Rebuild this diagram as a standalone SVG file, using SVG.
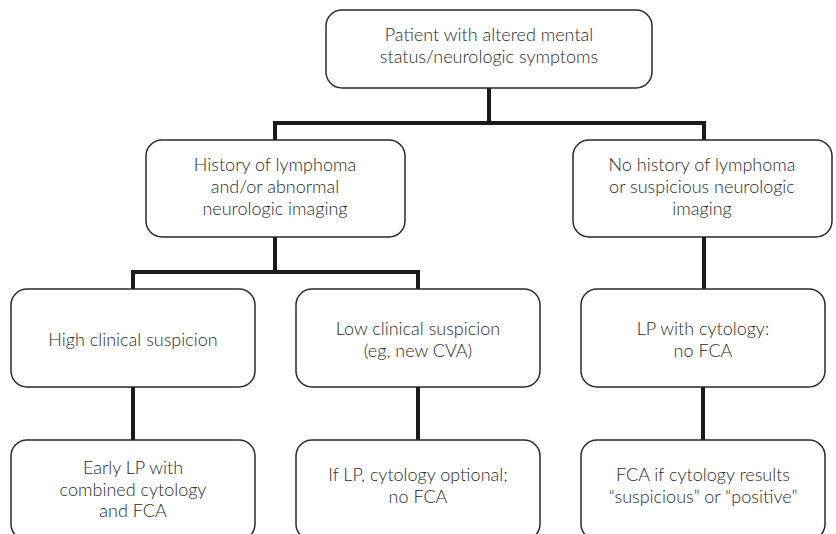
<svg xmlns="http://www.w3.org/2000/svg" width="836" height="534" viewBox="0 0 836 534">
<style>
.box{fill:#fff;stroke:#2a2a2a;stroke-width:1.5}
.t{font-family:"Lato","Open Sans",sans-serif;font-size:18px;font-weight:300;fill:#2a2a2a;text-anchor:middle}
.c{fill:none;stroke:#1a1a1a;stroke-width:4;stroke-linecap:butt;stroke-linejoin:miter}
</style>
<rect width="836" height="534" fill="#fff"/>
<g id="connectors">
<path class="c" d="M489 88V123M275 140V123H704V140"/>
<path class="c" d="M275 237V272M133 289V272H418V289"/>
<path class="c" d="M704 237V289"/>
<path class="c" d="M133 387V440"/>
<path class="c" d="M418 387V440"/>
<path class="c" d="M703 387V440"/>
</g>
<g id="n_patient">
<rect class="box" x="326" y="10" width="326" height="78" rx="16"/>
<text class="t" x="489" y="41">Patient with altered mental</text>
<text class="t" x="489" y="63">status/neurologic symptoms</text>
</g>
<g id="n_history">
<rect class="box" x="146" y="140" width="259" height="97" rx="16"/>
<text class="t" x="275" y="171">History of lymphoma</text>
<text class="t" x="275" y="193">and/or abnormal</text>
<text class="t" x="275" y="215">neurologic imaging</text>
</g>
<g id="n_nohistory">
<rect class="box" x="573" y="140" width="259" height="97" rx="16"/>
<text class="t" x="702" y="171">No history of lymphoma</text>
<text class="t" x="702" y="193">or suspicious neurologic</text>
<text class="t" x="702" y="215">imaging</text>
</g>
<g id="n_high">
<rect class="box" x="11" y="289" width="244" height="98" rx="16"/>
<text class="t" x="133" y="346">High clinical suspicion</text>
</g>
<g id="n_low">
<rect class="box" x="296" y="289" width="244" height="98" rx="16"/>
<text class="t" x="418" y="335">Low clinical suspicion</text>
<text class="t" x="418" y="357">(eg, new CVA)</text>
</g>
<g id="n_lp">
<rect class="box" x="581" y="289" width="244" height="98" rx="16"/>
<text class="t" x="703" y="335">LP with cytology:</text>
<text class="t" x="703" y="357">no FCA</text>
</g>
<g id="n_early">
<rect class="box" x="11" y="440" width="244" height="100" rx="16"/>
<text class="t" x="133" y="474">Early LP with</text>
<text class="t" x="133" y="496">combined cytology</text>
<text class="t" x="133" y="517">and FCA</text>
</g>
<g id="n_iflp">
<rect class="box" x="296" y="440" width="244" height="100" rx="16"/>
<text class="t" x="418" y="481">If LP, cytology optional;</text>
<text class="t" x="418" y="503">no FCA</text>
</g>
<g id="n_fca">
<rect class="box" x="581" y="440" width="244" height="100" rx="16"/>
<text class="t" x="703" y="481">FCA if cytology results</text>
<text class="t" x="703" y="503">“suspicious” or “positive”</text>
</g>
</svg>
